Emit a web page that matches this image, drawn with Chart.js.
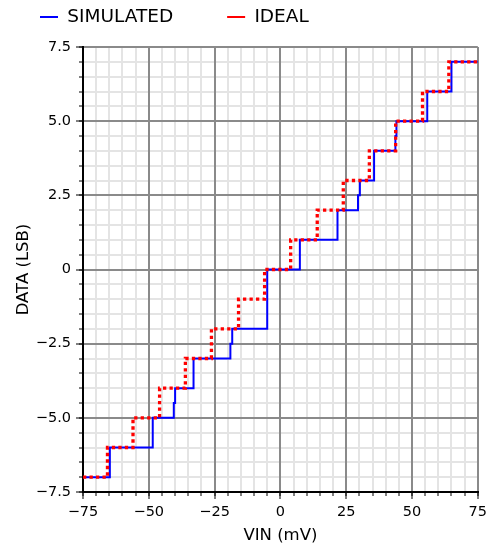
<!DOCTYPE html>
<html>
<head>
<meta charset="utf-8">
<script src="https://cdn.jsdelivr.net/npm/chart.js@4/dist/chart.umd.min.js"></script>
<style>
html,body{margin:0;padding:0;background:#ffffff;}
canvas{display:block;}
</style>
</head>
<body>
<canvas id="c" width="492" height="548"></canvas>
<script>
// ---------------- data ----------------
const seriesNames = ['SIMULATED', 'IDEAL'];

// simulated ADC output: x = VIN (mV) where the code changes, y = new code (LSB)
const simX = [-75, -64.8, -48.5, -40.5, -40.0, -33.0, -19.0, -18.3, -5.0, 7.4, 21.7, 29.5, 30.2, 35.6, 43.7, 44.1, 55.8, 65.0, 75];
const simY = [-7, -6, -5, -4.5, -4, -3, -2.5, -2, 0, 1, 2, 2.5, 3, 4, 4.5, 5, 6, 7, 7];

// ideal transfer curve
const idealX = [-75, -65.7, -56.0, -45.9, -36.1, -26.2, -15.9, -6.0, 3.9, 14.0, 23.9, 33.8, 43.8, 54.0, 64.0, 75];
const idealY = [-7, -6, -5, -4, -3, -2, -1, 0, 1, 2, 3, 4, 5, 6, 7, 7];

// axes
const xMinorTicks = [-75, -70, -65, -60, -55, -50, -45, -40, -35, -30, -25, -20, -15, -10, -5, 0, 5, 10, 15, 20, 25, 30, 35, 40, 45, 50, 55, 60, 65, 70, 75];
const xMajorTicks = [-75, -50, -25, 0, 25, 50, 75];
const xTickLabels = ['\u221275', '\u221250', '\u221225', '0', '25', '50', '75'];
const yMinorTicks = [-7.5, -7, -6.5, -6, -5.5, -5, -4.5, -4, -3.5, -3, -2.5, -2, -1.5, -1, -0.5, 0, 0.5, 1, 1.5, 2, 2.5, 3, 3.5, 4, 4.5, 5, 5.5, 6, 6.5, 7, 7.5];
const yMajorTicks = [-7.5, -5, -2.5, 0, 2.5, 5, 7.5];
const yTickLabels = ['\u22127.5', '\u22125.0', '\u22122.5', '0', '2.5', '5.0', '7.5'];
const xTitle = 'VIN (mV)';
const yTitle = 'DATA (LSB)';

// ---------------- styles / layout ----------------
const FONT = 'DejaVu Sans';
const BLUE = '#0000ff';
const RED = '#ff0000';
const LEG_PAD = 54;
const PAD_TOP = -46.25;
const PAD_LEFT = -14;
const LEGEND_H = 47 - PAD_TOP;

Chart.defaults.font.family = FONT;
Chart.defaults.color = '#000000';

const legendSpacer = {
  id: 'legendSpacer',
  beforeLayout(chart) {
    const lg = chart.legend;
    if (lg && !lg._spaced) {
      const f = lg.fit;
      lg.fit = function () { f.call(this); this.height = LEGEND_H; };
      lg._spaced = true;
    }
  }
};

const toPts = (xs, ys) => xs.map((x, i) => ({x: x, y: ys[i]}));

new Chart(document.getElementById('c'), {
  type: 'line',
  data: {
    datasets: [
      {
        label: seriesNames[0],
        data: toPts(simX, simY),
        stepped: 'before',
        borderColor: BLUE,
        backgroundColor: BLUE,
        borderWidth: 2,
        pointRadius: 0,
        fill: false,
        order: 1
      },
      {
        label: seriesNames[1],
        data: toPts(idealX, idealY),
        stepped: 'before',
        borderColor: RED,
        backgroundColor: RED,
        borderWidth: 3.3,
        borderDash: [3.3, 3.2],
        borderCapStyle: 'butt',
        pointRadius: 0,
        fill: false,
        order: 0
      }
    ]
  },
  options: {
    responsive: false,
    animation: false,
    events: [],
    layout: { padding: { top: PAD_TOP, left: PAD_LEFT, right: 14, bottom: 0 } },
    plugins: {
      tooltip: { enabled: false },
      legend: {
        display: true,
        position: 'top',
        align: 'start',
        labels: {
          padding: LEG_PAD,
          boxWidth: 18,
          boxHeight: 2,
          color: '#000000',
          font: { family: FONT, size: 18.5 },
          generateLabels: () => [
            { text: seriesNames[0], fillStyle: BLUE, strokeStyle: BLUE, lineWidth: 0, fontColor: '#000000', datasetIndex: 0, hidden: false },
            { text: seriesNames[1], fillStyle: RED, strokeStyle: RED, lineWidth: 0, fontColor: '#000000', datasetIndex: 1, hidden: false }
          ]
        }
      }
    },
    scales: {
      x: {
        type: 'linear', position: 'bottom', weight: 0,
        min: -75, max: 75,
        afterBuildTicks: s => { s.ticks = xMinorTicks.map(v => ({value: v})); },
        afterFit: s => { s.height = 0; },
        ticks: { display: false },
        grid: { color: '#e4e4e4', lineWidth: 2, tickLength: 4, tickColor: '#000000', tickWidth: 1, z: -2 },
        border: { display: false }
      },
      xMajor: {
        type: 'linear', position: 'bottom', weight: 1,
        min: -75, max: 75,
        afterBuildTicks: s => { s.ticks = xMajorTicks.map(v => ({value: v})); },
        afterFit: s => { s.height = 56; },
        ticks: {
          autoSkip: false, maxRotation: 0, minRotation: 0, padding: 5, color: '#000000',
          font: { family: FONT, size: 14.5 },
          callback: (v, i) => xTickLabels[i]
        },
        grid: { color: '#8a8a8a', lineWidth: 2, tickLength: 7, tickColor: '#000000', tickWidth: 1, z: -1 },
        border: { display: true, color: '#000000', width: 2 },
        title: { display: true, text: xTitle, color: '#000000', font: { family: FONT, size: 16.5 }, padding: { top: 0, bottom: 2 } }
      },
      y: {
        type: 'linear', position: 'left', weight: 0,
        min: -7.5, max: 7.5,
        afterBuildTicks: s => { s.ticks = yMinorTicks.map(v => ({value: v})); },
        afterFit: s => { s.width = 0; },
        ticks: { display: false },
        grid: { color: '#e4e4e4', lineWidth: 2, tickLength: 4, tickColor: '#000000', tickWidth: 1, z: -2 },
        border: { display: false }
      },
      yMajor: {
        type: 'linear', position: 'left', weight: 1,
        min: -7.5, max: 7.5,
        afterBuildTicks: s => { s.ticks = yMajorTicks.map(v => ({value: v})); },
        afterFit: s => { s.width = 83 - PAD_LEFT; },
        ticks: {
          autoSkip: false, padding: 5, color: '#000000',
          font: { family: FONT, size: 14.5 },
          callback: (v, i) => yTickLabels[i]
        },
        grid: { color: '#8a8a8a', lineWidth: 2, tickLength: 7, tickColor: '#000000', tickWidth: 1, z: -1 },
        border: { display: true, color: '#000000', width: 2 },
        title: { display: true, text: yTitle, color: '#000000', font: { family: FONT, size: 16.5 }, padding: { top: 28, bottom: 0 } }
      }
    }
  },
  plugins: [legendSpacer]
});
</script>
</body>
</html>
